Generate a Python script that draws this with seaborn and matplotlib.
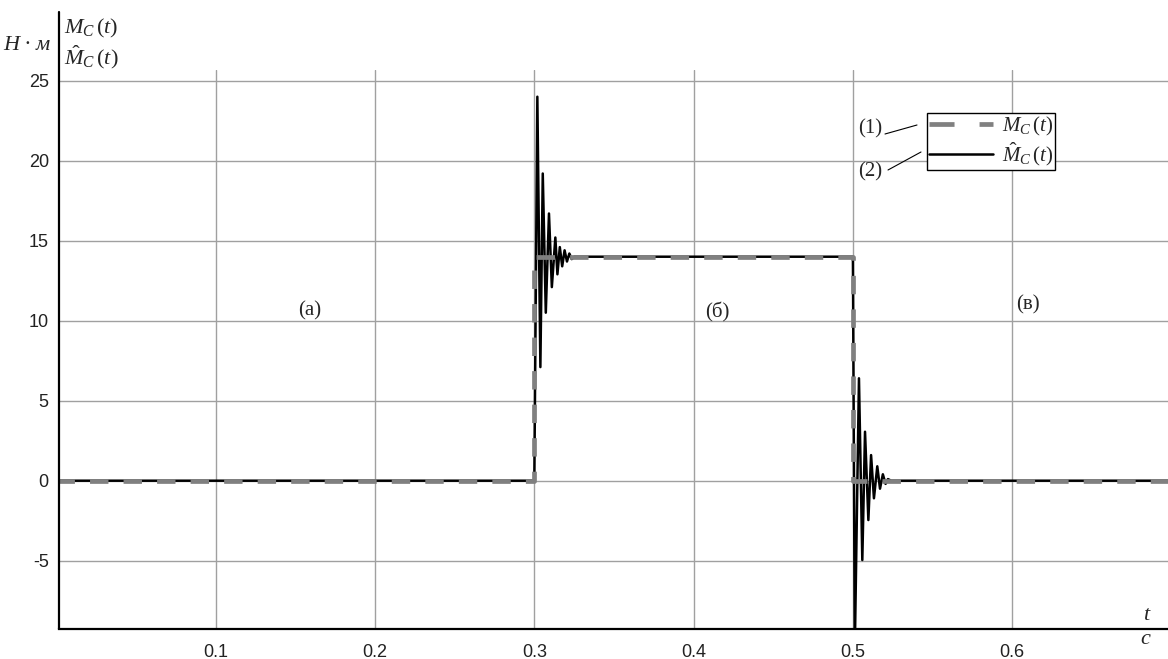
import matplotlib
matplotlib.use("Agg")
import matplotlib.pyplot as plt
import seaborn as sns
import pandas as pd
from matplotlib.lines import Line2D

# ---- data ----
t_ref = [0.0, 0.3, 0.3, 0.5, 0.5, 0.7]
m_ref = [0.0, 0.0, 14.0, 14.0, 0.0, 0.0]

t_est = [0.0, 0.3000, 0.3019, 0.3038, 0.3053, 0.3072, 0.3092, 0.3110, 0.3132,
         0.3145, 0.3160, 0.3175, 0.3190, 0.3205, 0.3220, 0.3235, 0.3250,
         0.5000, 0.5012, 0.5038, 0.5059, 0.5076, 0.5097, 0.5114, 0.5132,
         0.5153, 0.5170, 0.5188, 0.5205, 0.5220, 0.5240, 0.7]
m_est = [0.0, 0.0, 24.0, 7.1, 19.2, 10.5, 16.7, 12.1, 15.2,
         12.9, 14.6, 13.4, 14.4, 13.7, 14.2, 13.85, 14.0,
         14.0, -10.5, 6.4, -4.96, 3.06, -2.46, 1.6, -1.1,
         0.9, -0.5, 0.4, -0.2, 0.1, 0.0, 0.0]

x_ticks = [0.1, 0.2, 0.3, 0.4, 0.5, 0.6]
x_tick_labels = ["0.1", "0.2", "0.3", "0.4", "0.5", "0.6"]
y_ticks = [-5, 0, 5, 10, 15, 20, 25]
y_tick_labels = ["-5", "0", "5", "10", "15", "20", "25"]
region_labels = ["(а)", "(б)", "(в)"]
legend_labels = [r"$M_C\,(t)$", r"$\hat{M}_C\,(t)$"]

# ---- style ----
sns.set_style("white")
plt.rcParams["font.family"] = ["Liberation Sans", "DejaVu Sans"]
plt.rcParams["mathtext.fontset"] = "custom"
plt.rcParams["mathtext.rm"] = "Liberation Serif"
plt.rcParams["mathtext.it"] = "Liberation Serif:italic"
plt.rcParams["mathtext.bf"] = "Liberation Serif:bold"

W, H = 1168, 659
fig = plt.figure(figsize=(W / 100, H / 100), dpi=100)


def fx(px):
    return px / W


def fy(py):
    return 1 - py / H


left_px, right_px, top_px, bot_px = 58.5, 1168, 70, 629
ax = fig.add_axes([fx(left_px), fy(bot_px), fx(right_px) - fx(left_px), fy(top_px) - fy(bot_px)])

sns.lineplot(x=t_est, y=m_est, sort=False, estimator=None, color="black",
             linewidth=1.8, ax=ax, zorder=3)
sns.lineplot(x=t_ref, y=m_ref, sort=False, estimator=None, color="#808080",
             linewidth=3.4, ax=ax, zorder=4)
ref_line = ax.lines[-1]
ref_line.set_dashes((3.9, 3.2))
ref_line.set_dash_capstyle("butt")

ax.set_xlim(0.0013, 0.6978)
ax.set_ylim(-9.27, 25.67)
ax.set_xticks(x_ticks)
ax.set_xticklabels(x_tick_labels)
ax.set_yticks(y_ticks)
ax.set_yticklabels(y_tick_labels)
ax.set_xlabel("")
ax.set_ylabel("")

ax.grid(True, color="#a0a0a0", linewidth=1.0)
ax.set_axisbelow(True)
ax.tick_params(direction="in", length=7, width=1, color="#555555",
               labelsize=13, labelcolor="#222222", pad=7)
ax.tick_params(axis="x", pad=11)
for s in ["top", "right", "left"]:
    ax.spines[s].set_visible(False)
ax.spines["bottom"].set_color("black")
ax.spines["bottom"].set_linewidth(1.6)
ax.set_facecolor("white")

# extended left axis line
fig.add_artist(Line2D([fx(left_px), fx(left_px)], [fy(12), fy(bot_px)],
                      color="black", linewidth=1.6, transform=fig.transFigure))

# axis labels
fig.text(fx(3), fy(45), "H · м", family="Liberation Serif", style="italic",
         fontsize=16, ha="left", va="center")
fig.text(fx(64), fy(28), legend_labels[0], fontsize=16, ha="left", va="center")
fig.text(fx(64), fy(57), legend_labels[1], fontsize=16, ha="left", va="center")
fig.text(fx(1146), fy(616), "t", family="Liberation Serif", style="italic",
         fontsize=16, ha="center", va="center")
fig.text(fx(1145), fy(640), "с", family="Liberation Serif", style="italic",
         fontsize=16, ha="center", va="center")

# region labels
for lbl, (px, py) in zip(region_labels, [(310, 311), (717, 312), (1028, 305)]):
    fig.text(fx(px), fy(py), lbl, family="Liberation Serif", fontsize=15,
             ha="center", va="center")

# legend
handles = [
    Line2D([], [], color="#808080", linewidth=3.4, dashes=(5.3, 5.3), dash_capstyle="butt"),
    Line2D([], [], color="black", linewidth=1.8),
]
leg = fig.legend(handles, legend_labels, loc="lower right",
                 bbox_to_anchor=(fx(1055), fy(170)), bbox_transform=fig.transFigure,
                 fontsize=15, frameon=True, fancybox=False, framealpha=1,
                 edgecolor="black", borderpad=0.1, handlelength=3.1,
                 handletextpad=0.4, labelspacing=0.1, borderaxespad=0)
leg.get_frame().set_linewidth(1.0)

# numbered callouts
fig.text(fx(870), fy(129), "(1)", family="Liberation Serif", fontsize=15, ha="center", va="center")
fig.text(fx(870), fy(172), "(2)", family="Liberation Serif", fontsize=15, ha="center", va="center")
fig.add_artist(Line2D([fx(885), fx(917)], [fy(134), fy(125)], color="black",
                      linewidth=0.8, transform=fig.transFigure))
fig.add_artist(Line2D([fx(888), fx(921)], [fy(170), fy(152)], color="black",
                      linewidth=0.8, transform=fig.transFigure))

fig.savefig("out.png", dpi=100, facecolor="white")
